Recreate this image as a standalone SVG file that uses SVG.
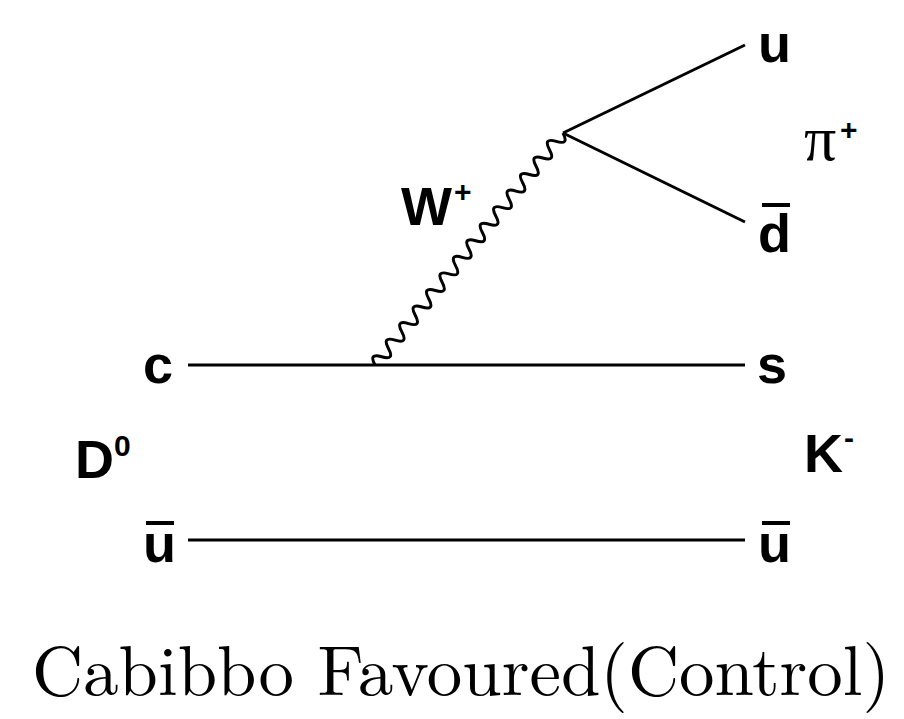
<svg xmlns="http://www.w3.org/2000/svg" width="904" height="719" viewBox="0 0 904 719">
<style>
.lbl{font-family:"Liberation Sans",Arial,sans-serif;font-weight:bold;font-size:54px;fill:#000}
.sup{font-family:"Liberation Sans",Arial,sans-serif;font-weight:bold;font-size:30px;fill:#000}
.ln{stroke:#000;stroke-width:3;fill:none}
.bar{fill:#000}
.cap{font-family:"Latin Modern Roman","CMU Serif","Liberation Serif",serif;font-size:70px;fill:#000}
</style>
<rect width="904" height="719" fill="#fff"/>
<g id="connectors">
<line class="ln" x1="188" y1="365" x2="745" y2="365"/>
<line class="ln" x1="188" y1="540" x2="745" y2="540"/>
<line class="ln" x1="563" y1="133" x2="745" y2="45"/>
<line class="ln" x1="563" y1="133" x2="745" y2="222"/>
<path class="ln" stroke-width="2.5" transform="translate(375,365) rotate(-50.98)" d="M0,0 q5.33,-13 10.66,0 t10.66,0 t10.66,0 t10.66,0 t10.66,0 t10.66,0 t10.66,0 t10.66,0 t10.66,0 t10.66,0 t10.66,0 t10.66,0 t10.66,0 t10.66,0 t10.66,0 t10.66,0 t10.66,0 t10.66,0 t10.66,0 t10.66,0 t10.66,0 t10.66,0 t10.66,0 t10.66,0 t10.66,0 t10.66,0 t10.66,0 t10.66,0"/>
</g>
<g id="c"><text class="lbl" x="143" y="383">c</text></g>
<g id="ubar-left"><rect class="bar" x="146" y="521" width="28" height="4"/><text class="lbl" x="143" y="562">u</text></g>
<g id="D0"><text class="lbl" x="75" y="478">D</text><text class="sup" x="114" y="456">0</text></g>
<g id="s"><text class="lbl" x="757" y="383">s</text></g>
<g id="ubar-right"><rect class="bar" x="762" y="521" width="28" height="4"/><text class="lbl" x="758" y="562">u</text></g>
<g id="Kminus"><text class="lbl" x="804" y="472">K</text><text class="sup" x="844" y="448">-</text></g>
<g id="u"><text class="lbl" x="758" y="62">u</text></g>
<g id="dbar"><rect class="bar" x="762" y="203" width="28" height="4"/><text class="lbl" x="758" y="252">d</text></g>
<g id="pi"><text x="804" y="160" style="font-family:'Liberation Serif','DejaVu Serif',serif;font-size:64px;fill:#000">π</text><text class="sup" x="840" y="140">+</text></g>
<g id="W"><text class="lbl" x="401" y="225">W</text><text class="sup" x="454" y="202">+</text></g>
<g id="caption"><text class="cap" x="32" y="695" textLength="858" lengthAdjust="spacingAndGlyphs">Cabibbo Favoured(Control)</text></g>
</svg>
